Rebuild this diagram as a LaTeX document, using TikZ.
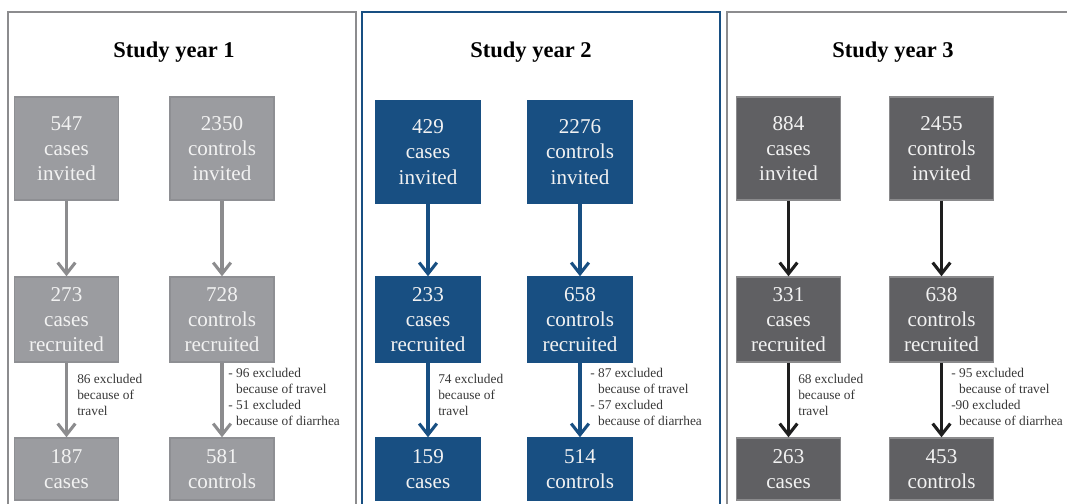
\documentclass[tikz,border=0pt]{standalone}
\usepackage{fontspec}
\setmainfont{Liberation Serif}
\usetikzlibrary{arrows.meta}
\definecolor{ygray}{RGB}{155,156,160}
\definecolor{ygrayline}{RGB}{142,143,147}
\definecolor{ygrayarrow}{RGB}{140,140,142}
\definecolor{yblue}{RGB}{24,79,130}
\definecolor{ydark}{RGB}{96,96,99}
\definecolor{ydarkline}{RGB}{138,138,140}
\definecolor{yblack}{RGB}{30,30,30}
\definecolor{ytext}{RGB}{242,242,242}
\definecolor{ylabel}{RGB}{55,55,55}
\begin{document}
\begin{tikzpicture}[x=0.025cm, y=-0.025cm,
                    ybox/.style = {shape = rectangle,
                                   line width = 1pt,
                                   inner sep = 0pt,
                                   minimum width = 2.6cm,
                                   align = center,
                                   text = ytext,
                                   font = \fontsize{15}{18}\selectfont},
                    invited/.style = {ybox, minimum height = 2.575cm},
                    recruited/.style = {ybox, minimum height = 2.125cm},
                    final/.style = {ybox, minimum height = 1.55cm},
                    g/.style = {fill = ygray, draw = ygrayline},
                    b/.style = {fill = yblue, draw = yblue},
                    d/.style = {fill = ydark, draw = ydarkline},
                    title/.style = {font = \bfseries\fontsize{16}{19}\selectfont},
                    note/.style = {anchor = north west, inner sep = 0pt,
                                   align = left, text = ylabel,
                                   font = \fontsize{9.5}{11.4}\selectfont},
                    flow/.style = {-{Straight Barb[length=2.8mm,width=4.4mm]},
                                   line width = 2.2pt}]
	\useasboundingbox (0,0) rectangle (1067,504);
	\clip (0,0) rectangle (1067,504);
	% panels
	\draw[ygrayarrow, line width = 1.4pt] (8,12) rectangle (356,530);
	\draw[yblue, line width = 1.4pt] (362,12) rectangle (720,530);
	\draw[ygrayarrow, line width = 1.4pt] (727,12) rectangle (1090,530);
	\node[title] (t1) at (174,52) {Study year 1};
	\node[title] (t2) at (531,52) {Study year 2};
	\node[title] (t3) at (893,52) {Study year 3};
	% study year 1
	\node[invited, g] (ci1) at (66.5,148.5) {547\\cases\\invited};
	\node[invited, g] (ki1) at (222,148.5) {2350\\controls\\invited};
	\node[recruited, g] (cr1) at (66.5,319.5) {273\\cases\\recruited};
	\node[recruited, g] (kr1) at (222,319.5) {728\\controls\\recruited};
	\node[final, g] (cf1) at (66.5,469) {187\\cases};
	\node[final, g] (kf1) at (222,469) {581\\controls};
	\draw[flow, ygrayarrow] (ci1) -- (cr1);
	\draw[flow, ygrayarrow] (ki1) -- (kr1);
	\draw[flow, ygrayarrow] (cr1) -- (cf1);
	\draw[flow, ygrayarrow] (kr1) -- (kf1);
	\node[note] (n1) at (77,374) {86 excluded\\because of\\travel};
	\node[note] (m1) at (228,368) {- 96 excluded\\\hphantom{- }because of travel\\- 51 excluded\\\hphantom{- }because of diarrhea};
	% study year 2
	\node[invited, b] (ci2) at (428,152) {429\\cases\\invited};
	\node[invited, b] (ki2) at (580,152) {2276\\controls\\invited};
	\node[recruited, b] (cr2) at (428,319.5) {233\\cases\\recruited};
	\node[recruited, b] (kr2) at (580,319.5) {658\\controls\\recruited};
	\node[final, b] (cf2) at (428,469) {159\\cases};
	\node[final, b] (kf2) at (580,469) {514\\controls};
	\draw[flow, yblue] (ci2) -- (cr2);
	\draw[flow, yblue] (ki2) -- (kr2);
	\draw[flow, yblue] (cr2) -- (cf2);
	\draw[flow, yblue] (kr2) -- (kf2);
	\node[note] (n2) at (438,374) {74 excluded\\because of\\travel};
	\node[note] (m2) at (590,368) {- 87 excluded\\\hphantom{- }because of travel\\- 57 excluded\\\hphantom{- }because of diarrhea};
	% study year 3
	\node[invited, d] (ci3) at (788.5,148.5) {884\\cases\\invited};
	\node[invited, d] (ki3) at (941.5,148.5) {2455\\controls\\invited};
	\node[recruited, d] (cr3) at (788.5,319.5) {331\\cases\\recruited};
	\node[recruited, d] (kr3) at (941.5,319.5) {638\\controls\\recruited};
	\node[final, d] (cf3) at (788.5,469) {263\\cases};
	\node[final, d] (kf3) at (941.5,469) {453\\controls};
	\draw[flow, yblack] (ci3) -- (cr3);
	\draw[flow, yblack] (ki3) -- (kr3);
	\draw[flow, yblack] (cr3) -- (cf3);
	\draw[flow, yblack] (kr3) -- (kf3);
	\node[note] (n3) at (798,374) {68 excluded\\because of\\travel};
	\node[note] (m3) at (951,368) {- 95 excluded\\\hphantom{- }because of travel\\-90 excluded\\\hphantom{- }because of diarrhea};
\end{tikzpicture}
\end{document}
